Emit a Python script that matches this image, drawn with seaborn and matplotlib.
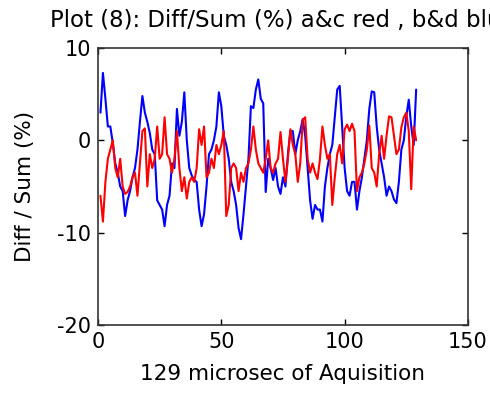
import numpy as np
import pandas as pd
import matplotlib
matplotlib.use("Agg")
import matplotlib.pyplot as plt
import seaborn as sns

# a&c (red) diff/sum in percent, 129 samples
red_vals = [
    -6, -8.8, -4.5, -2, -1, 0, -3, -4, -2, -5, -5.8, -5.6, -5, -4, -3.5, -6, -2.5, 1, 1.3,
    -5, -1.5, -3, -2, 1.5, -2, -1.5, 2.5, -1.5, -2, -3.5, -2, 1, -3, -5.5, -4, -6.3, -4.5, -4,
    -4.5, -3, 1.2, -0.5, 1.5, -4, -3.5, -2, -3, -0.5, -1.5, -0.5, 1, -8.2, -7, -3, -2.5, -3, -5.5, -3.5,
    -4.5, -3, -2.5, -1, 1.5, -1, -2.5, -3, -3.5, -2, 0, -3, -3.5, -2.5, -2, 0.9, -2, -4.5, -2, 1.2,
    -0.5, -1.5, -4.5, -2.5, 2.2, 2.5, -2, -3.5, -2.5, -3.5, -4.2, -2, 1.5, -0.5, -2, -1.5, -7, -4, -1.5,
    -0.5, -2.5, 1.2, 1.7, 1, 1.8, 1, -5.5, -4, -3.5, -2.5, -1, 1.6, -3, -3.5, -5, -1.5, 0.5,
    -2, 0.5, 2.6, 2.5, 0.5, -1.5, -1, 1.4, 2.5, 3, 1, -5.3, 1.5, 0,
]

# b&d (blue) diff/sum in percent, 129 samples
blue_vals = [
    3, 7.3, 4.5, 1.5, 1.5, -0.3, -2.5, -3.5, -5, -5.5, -8.2, -6.5, -5.5, -4, -3, -1, 2, 4.8, 3,
    2, 0.8, -1, -1.5, -6.5, -7, -7.5, -9.3, -7, -6, -2.5, -3, 3.4, 0.5, 2, 5.2, 0, -3, -3.8,
    -4.3, -4.5, -7.5, -9.3, -8, -5, -1.5, -1, 0, 1.5, 5.2, 3.7, 0.5, -0.5, -2, -4.5, -5.5, -7,
    -9.5, -10.7, -8, -5, -2, 3.7, 3.5, 5.5, 6.6, 4.5, 4, -5.6, -2, -3, -4.3, -3, -5, -5.8, -4, -5, -1.5, 1,
    1, -1.5, 0, 1, 2.3, 0.5, -3, -6.5, -8.5, -7, -7.5, -7.5, -8.8, -5, -3, -1.5, -0.5, 2.5,
    5.5, 5.9, 1.5, -3, -5.5, -6, -4.5, -4.5, -7.5, -5.5, -4, -2, 0, 3.4, 5.3, 5.2, 1.5, -1, -2.5,
    -4, -6, -5, -5.5, -6.4, -6.8, -4.5, -1, 0, 2.6, 4.4, 1.5, -0.5, 5.5,
]

sample = np.arange(1, len(red_vals) + 1)

x_ticks = [0, 50, 100, 150]
y_ticks = [-20, -10, 0, 10]
title = "Plot (8): Diff/Sum (%) a&c red , b&d blue"
xlabel = "129 microsec of Aquisition"
ylabel = "Diff / Sum (%)"

df = pd.DataFrame({
    "sample": np.concatenate([sample, sample]),
    "value": blue_vals + red_vals,
    "series": ["b&d"] * len(blue_vals) + ["a&c"] * len(red_vals),
})

sns.set_theme(style="white")
plt.rcParams["font.family"] = ["DejaVu Sans"]

fig = plt.figure(figsize=(4.9, 4.0), dpi=100)
ax = fig.add_axes([0.2, 0.1875, 0.755, 0.6925])

sns.lineplot(data=df, x="sample", y="value", hue="series",
             palette={"b&d": "#0000ff", "a&c": "#ff0000"},
             hue_order=["b&d", "a&c"], linewidth=1.5, ax=ax, legend=False)

ax.set_xlim(0, 150)
ax.set_ylim(-20, 10)
ax.set_xticks(x_ticks)
ax.set_yticks(y_ticks)
ax.set_xticklabels([str(t) for t in x_ticks])
ax.set_yticklabels([str(t) for t in y_ticks])
ax.tick_params(direction="in", length=4, width=1, colors="black",
               labelsize=15, top=True, right=True, bottom=True, left=True, pad=5)
for s in ax.spines.values():
    s.set_color("#333333")
    s.set_linewidth(1.2)
ax.set_xlabel(xlabel, fontsize=15.5, color="black", labelpad=9)
ax.set_ylabel(ylabel, fontsize=15.5, color="black", labelpad=16)
t = ax.set_title(title, fontsize=16.5, color="black", pad=15)
ax.grid(False)
fig.patch.set_facecolor("white")

fig.savefig("out.png", dpi=100, facecolor="white")
